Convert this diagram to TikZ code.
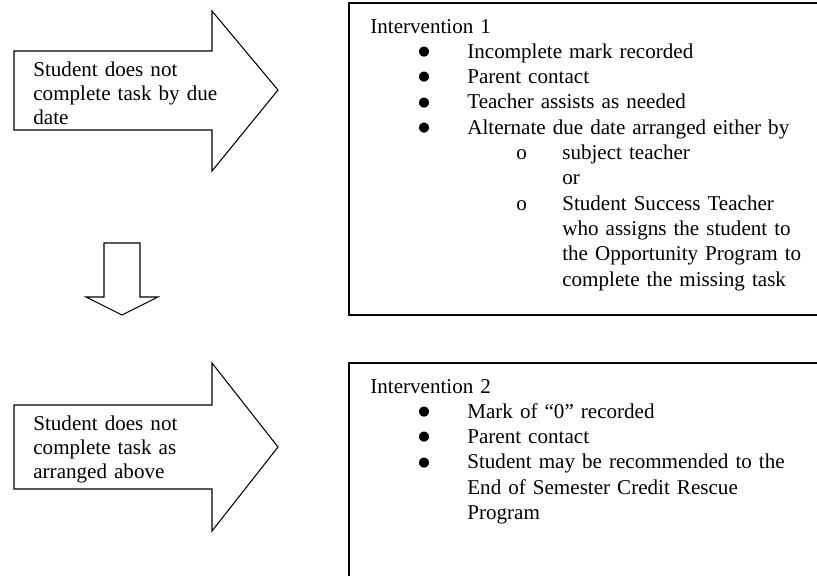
\documentclass[tikz,border=0pt]{standalone}
\usepackage{fontspec}
\setmainfont{Liberation Serif}
\newfontfamily\dotfont{DejaVu Sans}

% bullet line and sub bullet line
\newcommand{\bdot}{\smash{\raisebox{1.6pt}{\dotfont\fontsize{7.5}{8}\selectfont ●}}}
\newcommand{\bitem}[1]{\par\hangindent=1.94cm\hangafter=0\noindent\llap{\makebox[0.98cm][l]{\bdot}}#1}
\newcommand{\oitem}[1]{\par\hangindent=3.84cm\hangafter=0\noindent\llap{\makebox[0.92cm][l]{o}}#1}
\newcommand{\oline}[1]{\par\hangindent=3.84cm\hangafter=0\noindent#1}

\begin{document}
\begin{tikzpicture}[x=0.02cm, y=-0.02cm]
        \tikzstyle{block} = [draw, line width=0.6pt, line join=miter]
        \tikzstyle{plan} = [draw, line width=1pt]
        \tikzstyle{cause} = [inner sep=0pt, anchor=base west, text width=5cm, font=\fontsize{12}{13.8}\selectfont]
        \tikzstyle{steps} = [inner sep=0pt, anchor=base west, text width=9cm, font=\fontsize{12}{14.4}\selectfont]

        \useasboundingbox (0,0) rectangle (817,575);
        \clip (0,0) rectangle (817,575);

        % Block arrows
        \draw [block] (14,51) -- (212,51) -- (212,11) -- (278,90) -- (212,171) -- (212,130) -- (14,130) -- cycle;
        \draw [block] (14,405) -- (212,405) -- (212,363) -- (278,447) -- (212,531) -- (212,489) -- (14,489) -- cycle;
        \draw [block] (104,243) -- (140,243) -- (140,297) -- (158,297) -- (122,315) -- (86,297) -- (104,297) -- cycle;

        % Causes
        \node [cause] (late1) at (33,76) {Student does not\newline complete task by due\newline date};
        \node [cause] (late2) at (33,430) {Student does not\newline complete task as\newline arranged above};

        % Intervention boxes
        \draw [plan] (349,3) rectangle (840,315);
        \draw [plan] (349,363) rectangle (840,600);

        \node [steps] (step1) at (370,33) {Intervention 1
            \bitem{Incomplete mark recorded}
            \bitem{Parent contact}
            \bitem{Teacher assists as needed}
            \bitem{Alternate due date arranged either by}
            \oitem{subject teacher}
            \oline{or}
            \oitem{Student Success Teacher\newline who assigns the student to\newline the Opportunity Program to\newline complete the missing task}\par};

        \node [steps] (step2) at (370,393) {Intervention 2
            \bitem{Mark of “0” recorded}
            \bitem{Parent contact}
            \bitem{Student may be recommended to the\newline End of Semester Credit Rescue\newline Program}\par};

\end{tikzpicture}
\end{document}
